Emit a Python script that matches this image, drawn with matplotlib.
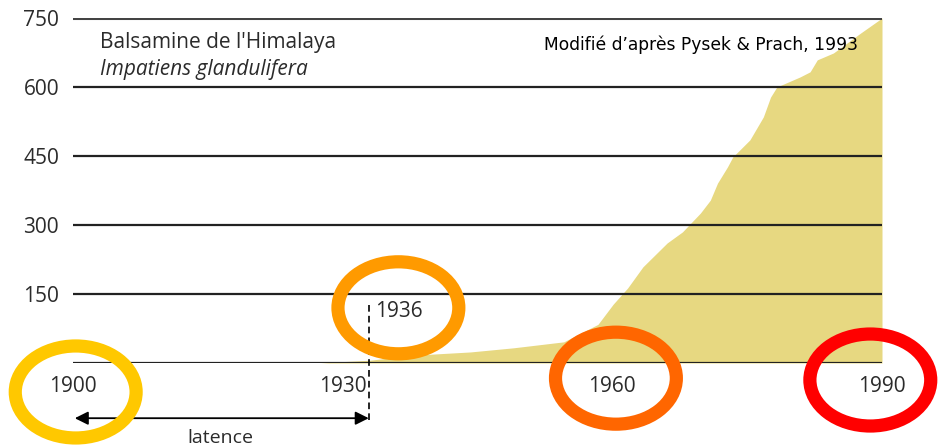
import matplotlib.pyplot as plt
from matplotlib.patches import Ellipse

# Balsamine de l'Himalaya - surface colonisee (d'apres Pysek & Prach 1993)
years = [1927.5, 1930, 1933, 1937.9, 1944.2, 1949, 1954.6, 1958.4, 1960.1, 1961.7,
         1963.4, 1966.1, 1967.8, 1969.8, 1970.9, 1971.7, 1972.8, 1973.4, 1975.3,
         1976.8, 1977.6, 1978.3, 1980.9, 1982, 1982.8, 1984.6, 1987.6, 1990]
values = [0, 3, 6, 17, 24, 33, 46, 84, 128, 163,
          209, 261, 285, 326, 354, 391, 426, 448, 485,
          535, 578, 600, 622, 633, 659, 674, 717, 750]

x_ticks = [1900, 1930, 1960, 1990]
y_ticks = [0, 150, 300, 450, 600, 750]
y_labels = ["", "150", "300", "450", "600", "750"]

fill_color = "#e7d881"
text_color = "#2b2b2b"

fig = plt.figure(figsize=(9.41, 4.48), dpi=100)
ax = fig.add_axes([73 / 941, 1 - 363 / 448, (882 - 73) / 941, (363 - 18) / 448])

ax.fill_between(years, values, 0, color=fill_color, lw=0, zorder=1)

for y in y_ticks:
    ax.axhline(y, color="#222222" if y < 750 else "#444444", lw=1.6 if y < 750 else 2.2, zorder=2)

ax.set_xlim(1900, 1990)
ax.set_ylim(0, 750)
for s in ax.spines.values():
    s.set_visible(False)

ax.set_xticks(x_ticks)
ax.set_xticklabels([str(t) for t in x_ticks])
ax.set_yticks(y_ticks)
ax.set_yticklabels(y_labels)
ax.tick_params(length=0, labelsize=15, labelcolor=text_color)
ax.tick_params(axis="x", pad=9)
ax.tick_params(axis="y", pad=10)
for lab in ax.get_xticklabels() + ax.get_yticklabels():
    lab.set_family("Open Sans")

# titles
ax.text(1903, 697, "Balsamine de l'Himalaya", fontsize=15, family="Open Sans",
        color=text_color, va="center")
ax.text(1903, 638, "Impatiens glandulifera", fontsize=15, family="Open Sans",
        style="italic", color=text_color, va="center")
ax.text(1987.3, 691, "Modifié d’après Pysek & Prach, 1993", fontsize=12.3,
        family="DejaVu Sans", color="black", ha="right", va="center")

# 1936 marker and latency arrow
x_mark = 1932.9
ax.plot([x_mark, x_mark], [126, -124], ls=(0, (4, 2.5)), color="black", lw=1.2,
        clip_on=False, zorder=3)
ax.text(x_mark + 0.7, 113, "1936", fontsize=15, family="Open Sans", color=text_color,
        va="center", ha="left")
ax.annotate("", xy=(1900.2, -120), xytext=(x_mark, -120),
            arrowprops=dict(arrowstyle="<|-|>", color="black", lw=1.3,
                            mutation_scale=20, shrinkA=0, shrinkB=0),
            annotation_clip=False)
ax.text(1916.4, -162, "latence", fontsize=14, family="Open Sans", color=text_color,
        ha="center", va="center")

# coloured circles
rings = [(1900.3, -63, "#ffc800"), (1936.2, 120, "#ff9a00"),
         (1960.4, -33, "#ff6600"), (1988.7, -37, "#ff0000")]
for cx, cy, col in rings:
    ax.add_patch(Ellipse((cx, cy), 121 / 9, 92 / 69 * 150, fill=False, ec=col,
                         lw=9.5, clip_on=False, zorder=4))

fig.savefig("out.png", dpi=100)
